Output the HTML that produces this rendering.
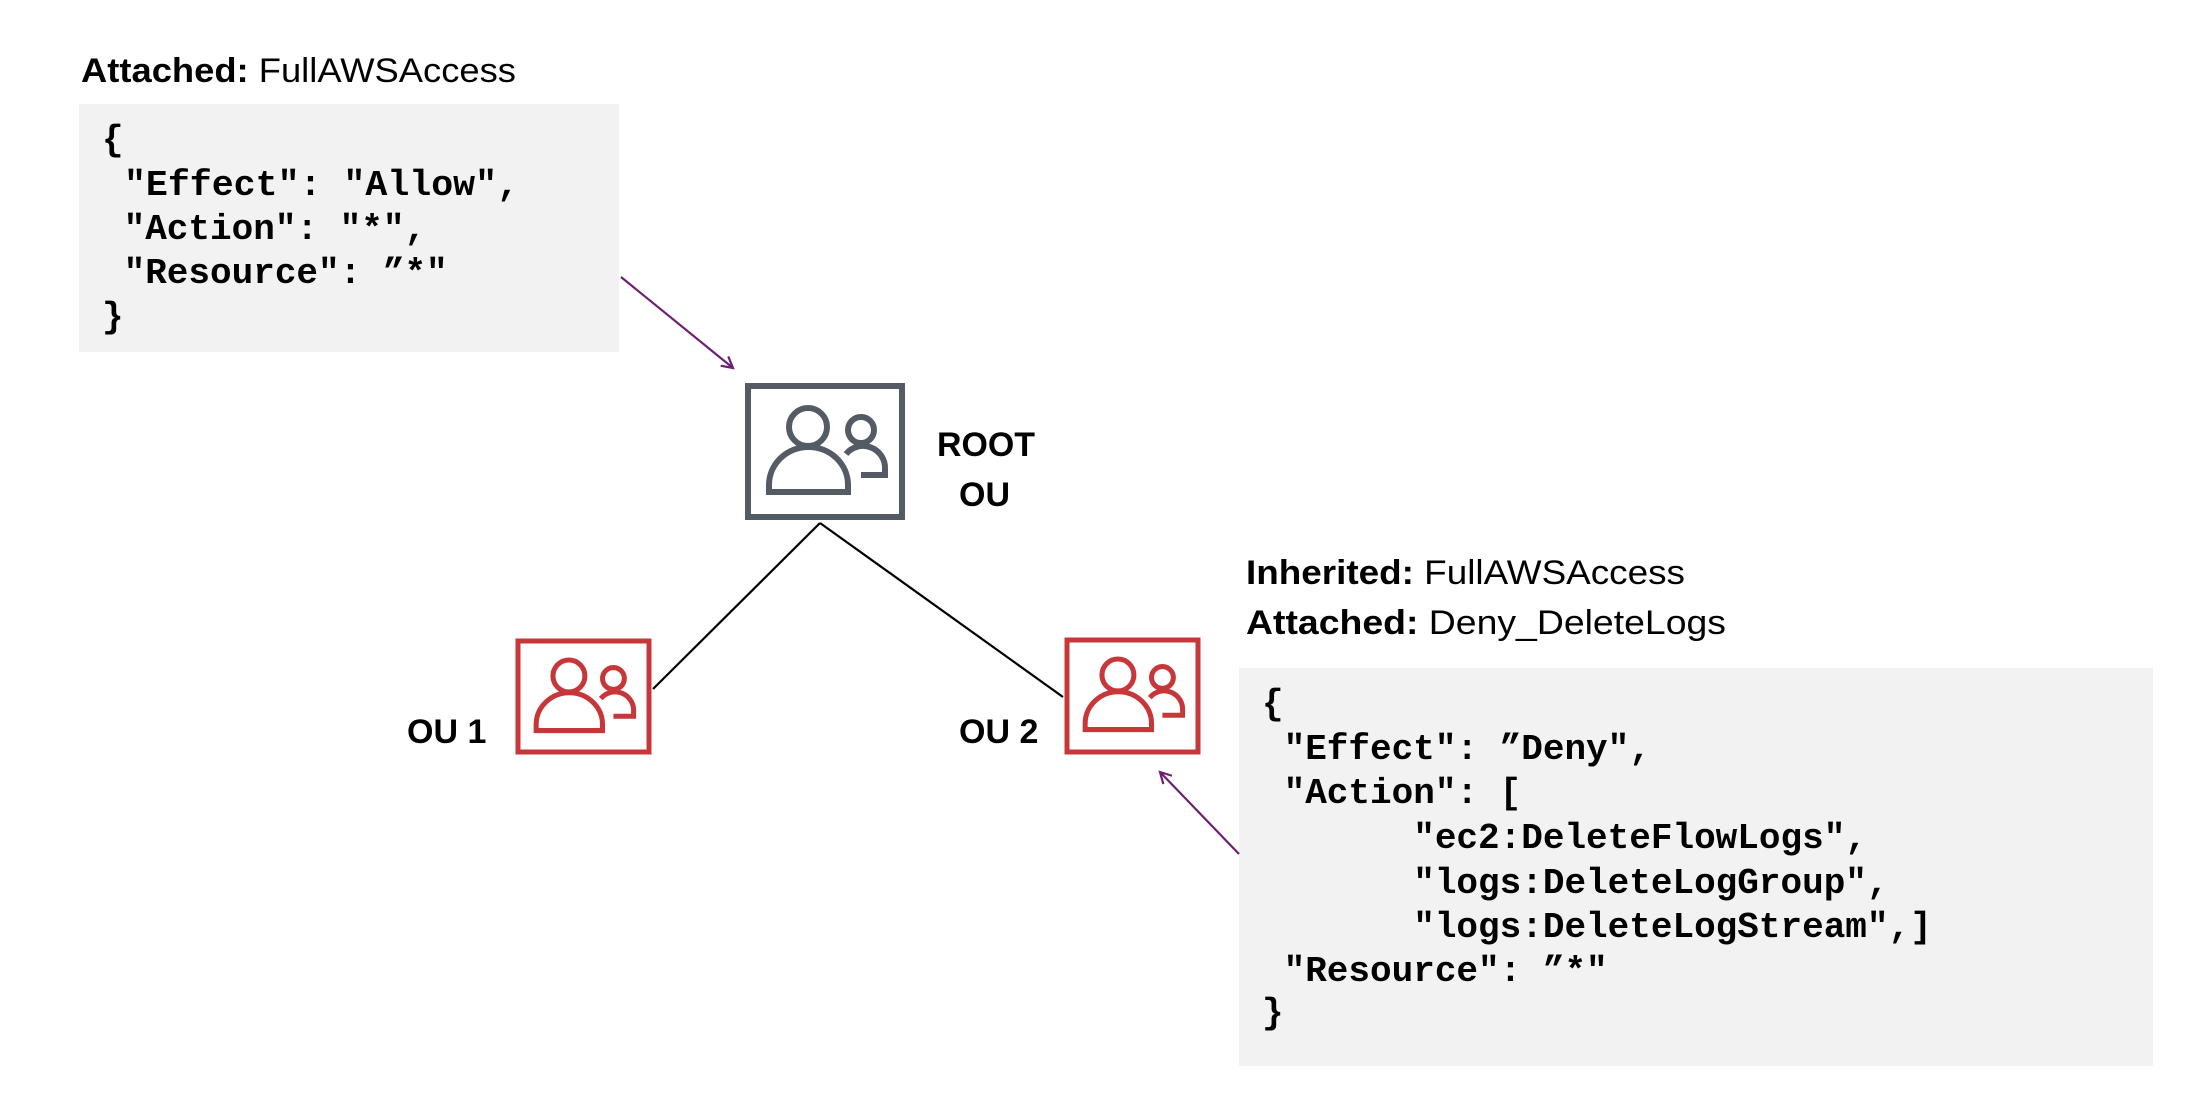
<!DOCTYPE html>
<html><head><meta charset="utf-8"><style>
html,body{margin:0;padding:0;background:#fff;}
svg{display:block;}
.lb{font-family:"Liberation Sans",sans-serif;font-size:34px;fill:#000;}
.mono{font-family:"Liberation Mono",monospace;font-size:36px;fill:#000;white-space:pre;font-weight:bold;}
</style></head><body>
<svg width="2204" height="1116" viewBox="0 0 2204 1116" xmlns="http://www.w3.org/2000/svg">
<defs>
<marker id="ah" markerWidth="14" markerHeight="14" refX="12" refY="7" orient="auto" markerUnits="userSpaceOnUse">
<path d="M1 1 L12 7 L1 13" fill="none" stroke="#6e1f73" stroke-width="2.2"/>
</marker>
<g id="icon" fill="none" stroke-width="6">
<circle cx="63" cy="44" r="19"/>
<path d="M24 109 L24 102 A39.5 38 0 0 1 103 102 L103 109 Z"/>
<circle cx="116" cy="47" r="13"/>
<path d="M101 71 A22 22 0 0 1 140 86 L140 92 L116 92"/>
</g>
</defs>

<text class="lb" x="81" y="82" textLength="435" lengthAdjust="spacingAndGlyphs"><tspan font-weight="bold">Attached:</tspan> FullAWSAccess</text>
<rect x="79" y="104" width="540" height="248" fill="#f2f2f2"/>
<text class="mono" x="102" y="150">{</text>
<text class="mono" x="102" y="195" textLength="417" lengthAdjust="spacingAndGlyphs"> "Effect": "Allow",</text>
<text class="mono" x="102" y="239"> "Action": "*",</text>
<text class="mono" x="102" y="283"> "Resource": ”*"</text>
<text class="mono" x="102" y="327">}</text>
<line x1="621" y1="277" x2="733" y2="368" stroke="#6e1f73" stroke-width="2.2" marker-end="url(#ah)"/>

<line x1="820" y1="523" x2="653" y2="689" stroke="#000" stroke-width="2.2"/>
<line x1="820" y1="523" x2="1063" y2="697" stroke="#000" stroke-width="2.2"/>

<rect x="748" y="386" width="154" height="131" fill="#fff" stroke="#545b64" stroke-width="6"/>
<g transform="translate(745,383)" stroke="#545b64"><use href="#icon"/></g>
<text class="lb" x="937" y="456" font-weight="bold" textLength="98" lengthAdjust="spacingAndGlyphs">ROOT</text>
<text class="lb" x="959" y="506" font-weight="bold">OU</text>

<rect x="518" y="641" width="131" height="111" fill="#fff" stroke="#c7373a" stroke-width="5"/>
<g transform="translate(516,639) scale(0.84)" stroke="#c7373a"><use href="#icon"/></g>
<text class="lb" x="407" y="743" font-weight="bold">OU 1</text>

<rect x="1067" y="640" width="131" height="112" fill="#fff" stroke="#c7373a" stroke-width="5"/>
<g transform="translate(1065,638) scale(0.84)" stroke="#c7373a"><use href="#icon"/></g>
<text class="lb" x="959" y="743" font-weight="bold">OU 2</text>

<text class="lb" x="1246" y="584" textLength="439" lengthAdjust="spacingAndGlyphs"><tspan font-weight="bold">Inherited:</tspan> FullAWSAccess</text>
<text class="lb" x="1246" y="634" textLength="480" lengthAdjust="spacingAndGlyphs"><tspan font-weight="bold">Attached:</tspan> Deny_DeleteLogs</text>
<rect x="1239" y="668" width="914" height="398" fill="#f2f2f2"/>
<text class="mono" x="1262" y="714">{</text>
<text class="mono" x="1262" y="759"> "Effect": ”Deny",</text>
<text class="mono" x="1262" y="803"> "Action": [</text>
<text class="mono" x="1262" y="848">       "ec2:DeleteFlowLogs",</text>
<text class="mono" x="1262" y="893">       "logs:DeleteLogGroup",</text>
<text class="mono" x="1262" y="937">       "logs:DeleteLogStream",]</text>
<text class="mono" x="1262" y="981"> "Resource": ”*"</text>
<text class="mono" x="1262" y="1023">}</text>
<line x1="1239" y1="854" x2="1160" y2="772" stroke="#6e1f73" stroke-width="2.2" marker-end="url(#ah)"/>
</svg>
</body></html>
